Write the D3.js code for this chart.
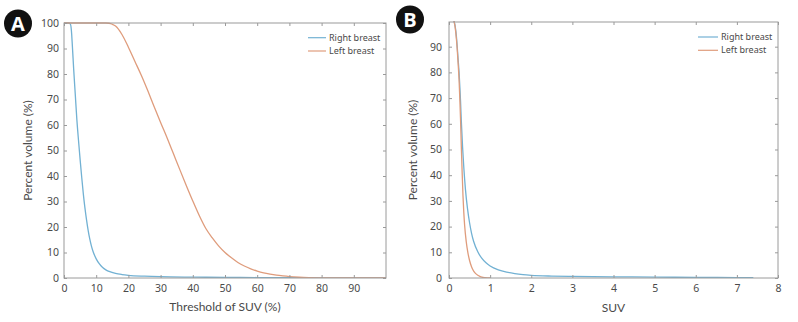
<!DOCTYPE html>
<html>
<head>
<meta charset="utf-8">
<script src="https://cdn.jsdelivr.net/npm/d3@7"></script>
<style>
  body { margin: 0; background: #fff; }
  svg { display: block; font-family: "Noto Sans", "Open Sans", sans-serif; }
</style>
</head>
<body>
<svg id="chart" width="798" height="322"></svg>
<script>
// ---------- Data ----------
const seriesNames = ["Right breast", "Left breast"];

// Panel A: Threshold of SUV (%) vs Percent volume (%)
const aRightX = [0, 1.5, 2, 2.3, 2.6, 3, 3.5, 4, 4.5, 5, 5.5, 6, 6.5, 7, 7.5, 8, 8.5, 9, 10, 11, 12, 13, 14, 16, 18, 20, 25, 30, 40, 50, 60, 70, 80, 90, 100];
const aRightY = [100, 100, 99.5, 97, 91, 82, 72, 62, 54, 46.5, 39.5, 33, 27.5, 22.8, 18.7, 15.3, 12.6, 10.5, 7.5, 5.5, 4.1, 3.2, 2.6, 1.8, 1.35, 1.05, 0.7, 0.5, 0.35, 0.25, 0.18, 0.12, 0.07, 0.03, 0];
const aLeftX = [0, 13, 14, 15, 16, 18, 20, 22, 24, 26, 28, 30, 32, 34, 36, 38, 40, 42, 44, 46, 48, 50, 52, 54, 56, 58, 60, 62, 64, 66, 68, 70, 73, 76, 80, 84, 100];
const aLeftY = [100, 100, 99.9, 99.5, 98.8, 95.5, 90.5, 85, 79.5, 73.5, 67.2, 61, 55, 48.7, 42.4, 36.2, 30.2, 24.5, 19.5, 15.8, 12.6, 10, 7.9, 6.1, 4.7, 3.6, 2.7, 2.0, 1.5, 1.1, 0.8, 0.55, 0.3, 0.15, 0.05, 0, 0];

// Panel B: SUV vs Percent volume (%)
const bRightX = [0.12, 0.15, 0.18, 0.2, 0.22, 0.245, 0.265, 0.28, 0.3, 0.33, 0.36, 0.4, 0.45, 0.5, 0.55, 0.6, 0.7, 0.8, 0.9, 1.0, 1.2, 1.4, 1.6, 1.8, 2, 2.5, 3, 4, 5, 6, 7, 7.4];
const bRightY = [100, 98, 94, 90, 85.5, 80, 74, 69, 61, 51, 43, 34.5, 27, 21.5, 17.3, 14.2, 10.2, 7.6, 5.9, 4.7, 3.2, 2.3, 1.7, 1.3, 1.05, 0.75, 0.6, 0.45, 0.35, 0.25, 0.15, 0.1];
const bLeftX = [0.12, 0.15, 0.18, 0.2, 0.22, 0.245, 0.265, 0.28, 0.3, 0.32, 0.34, 0.36, 0.38, 0.42, 0.46, 0.5, 0.55, 0.6, 0.65, 0.7, 0.75, 0.8, 0.87, 0.95, 1.0];
const bLeftY = [100, 97.5, 93, 89, 84, 77, 69, 62, 51, 41, 32, 25.5, 20.5, 14, 9.8, 6.8, 4.3, 2.7, 1.7, 1.05, 0.6, 0.3, 0.1, 0.02, 0];

const aXTicks = [0, 10, 20, 30, 40, 50, 60, 70, 80, 90];
const aYTicks = [0, 10, 20, 30, 40, 50, 60, 70, 80, 90, 100];
const bXTicks = [0, 1, 2, 3, 4, 5, 6, 7, 8];
const bYTicks = [0, 10, 20, 30, 40, 50, 60, 70, 80, 90];

const colors = ["#72b1d3", "#df9c7c"];

// ---------- Drawing ----------
const svg = d3.select("#chart");

function zip(xs, ys) { return xs.map((x, i) => ({ x: x, y: ys[i] })); }

function panel(opt) {
  const g = svg.append("g");
  const x = d3.scaleLinear().domain(opt.xDomain).range([opt.left, opt.right]);
  const y = d3.scaleLinear().domain(opt.yDomain).range([opt.bottom, opt.top]);
  const tickLen = 3;
  const axisCol = "#9a9a9a";
  const textCol = "#4a4a4a";

  // clip to plot box
  const clipId = "clip" + opt.badge;
  svg.append("clipPath").attr("id", clipId).append("rect")
    .attr("x", opt.left).attr("y", opt.top - 1)
    .attr("width", opt.right - opt.left).attr("height", opt.bottom - opt.top + 1);

  // curves
  const line = d3.line().x(d => x(d.x)).y(d => y(d.y)).curve(d3.curveMonotoneX);
  opt.series.forEach((s, i) => {
    g.append("path").datum(s).attr("d", line).attr("clip-path", `url(#${clipId})`)
      .attr("fill", "none").attr("stroke", colors[i]).attr("stroke-width", 1.3);
  });

  // axes (ticks inside, on all four sides)
  const bottomAx = d3.axisBottom(x).tickValues(opt.xTicks).tickSize(-tickLen).tickPadding(7).tickFormat(d3.format("d"));
  const topAx = d3.axisTop(x).tickValues(opt.xTicks).tickSize(-tickLen).tickFormat("");
  const leftAx = d3.axisLeft(y).tickValues(opt.yTicks).tickSize(-tickLen).tickPadding(opt.yPad).tickFormat(d3.format("d"));
  const rightAx = d3.axisRight(y).tickValues(opt.yTicks).tickSize(-tickLen).tickFormat("");

  const axes = [
    g.append("g").attr("transform", `translate(0,${opt.bottom})`).call(bottomAx),
    g.append("g").attr("transform", `translate(0,${opt.top})`).call(topAx),
    g.append("g").attr("transform", `translate(${opt.left},0)`).call(leftAx),
    g.append("g").attr("transform", `translate(${opt.right},0)`).call(rightAx)
  ];
  axes.forEach(a => {
    a.select(".domain").remove();
    a.selectAll(".tick line").attr("stroke", axisCol);
    a.selectAll("text").attr("fill", textCol).style("font-size", "10.5px")
      .style("font-family", '"Noto Sans", sans-serif');
  });

  // box
  g.append("rect").attr("x", opt.left).attr("y", opt.top)
    .attr("width", opt.right - opt.left).attr("height", opt.bottom - opt.top)
    .attr("fill", "none").attr("stroke", axisCol).attr("stroke-width", 1);

  // axis titles
  g.append("text").attr("x", (opt.left + opt.right) / 2).attr("y", opt.xTitleY)
    .attr("text-anchor", "middle").attr("fill", textCol)
    .style("font-size", "12px").style("font-family", 'Lato, "Noto Sans", sans-serif')
    .text(opt.xTitle);
  g.append("text")
    .attr("transform", `translate(${opt.yTitleX},${(opt.top + opt.bottom) / 2}) rotate(-90)`)
    .attr("text-anchor", "middle").attr("fill", textCol)
    .style("font-size", "12px").style("font-family", 'Lato, "Noto Sans", sans-serif')
    .text("Percent volume (%)");

  // legend
  seriesNames.forEach((n, i) => {
    const ly = opt.legendY + i * 13.3;
    g.append("line").attr("x1", opt.legendX).attr("x2", opt.legendX + opt.legendLen)
      .attr("y1", ly).attr("y2", ly).attr("stroke", colors[i]).attr("stroke-width", 1.2);
    g.append("text").attr("x", opt.legendX + opt.legendLen + 3).attr("y", ly)
      .attr("dy", "0.35em").attr("fill", textCol).style("font-size", "9px").text(n);
  });

  // panel badge
  g.append("circle").attr("cx", opt.badgeX).attr("cy", opt.badgeY).attr("r", 14).attr("fill", "#111");
  g.append("text").attr("x", opt.badgeX).attr("y", opt.badgeY).attr("dy", "0.36em")
    .attr("text-anchor", "middle").attr("fill", "#fff")
    .style("font-size", "20px").style("font-weight", "bold")
    .style("font-family", '"Open Sans", "Noto Sans", sans-serif')
    .text(opt.badge);
}

panel({
  left: 64, right: 386, top: 23, bottom: 278,
  xDomain: [0, 100], yDomain: [0, 100],
  xTicks: aXTicks, yTicks: aYTicks, yPad: 5,
  series: [zip(aRightX, aRightY), zip(aLeftX, aLeftY)],
  xTitle: "Threshold of SUV (%)", xTitleY: 311, yTitleX: 32,
  legendX: 308, legendLen: 18, legendY: 37.7,
  badge: "A", badgeX: 18, badgeY: 23.5
});

panel({
  left: 449, right: 778, top: 22, bottom: 278,
  xDomain: [0, 8], yDomain: [0, 99.6],
  xTicks: bXTicks, yTicks: bYTicks, yPad: 7,
  series: [zip(bRightX, bRightY), zip(bLeftX, bLeftY)],
  xTitle: "SUV", xTitleY: 312, yTitleX: 417,
  legendX: 698, legendLen: 20, legendY: 37,
  badge: "B", badgeX: 410, badgeY: 19.5
});
</script>
</body>
</html>
